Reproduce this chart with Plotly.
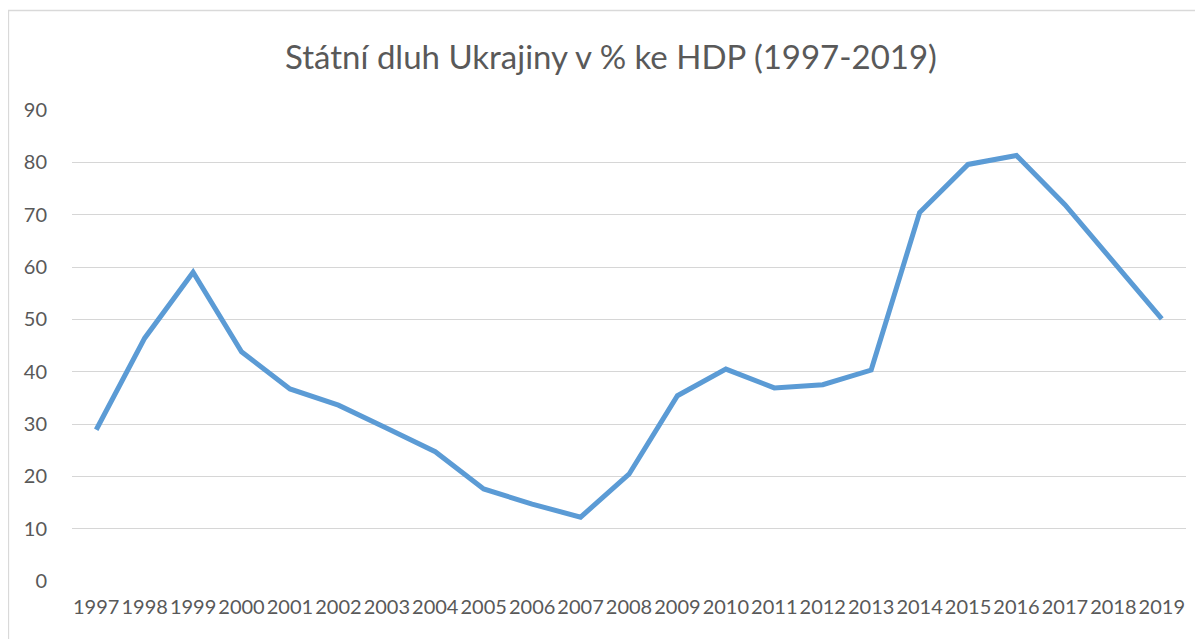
import plotly.graph_objects as go

years = [str(y) for y in range(1997, 2020)]
debt_pct = [28.9, 46.4, 59.0, 43.8, 36.7, 33.6, 29.2, 24.7, 17.6, 14.7, 12.2, 20.4,
            35.4, 40.5, 36.9, 37.5, 40.3, 70.4, 79.6, 81.3, 71.9, 60.9, 50.1]
y_ticks = [0, 10, 20, 30, 40, 50, 60, 70, 80, 90]
title_text = "Státní dluh Ukrajiny v % ke HDP (1997-2019)"

# page has an 8px body margin, so the figure is sized to fit the 1203x639 window
W, H = 1195, 631
L, R, T, B = 64, 17, 102, 58

fig = go.Figure()
fig.add_trace(go.Scatter(
    x=years, y=debt_pct, mode="lines",
    line=dict(color="#5B9BD5", width=5),
    hoverinfo="x+y", showlegend=False,
))

pw = W - L - R
ph = H - T - B
fig.update_layout(
    width=W, height=H,
    margin=dict(l=L, r=R, t=T, b=B, autoexpand=False),
    paper_bgcolor="white", plot_bgcolor="white",
    font=dict(family="Lato, Open Sans, sans-serif", color="#595959"),
    title=dict(text=title_text, x=603 / W, xanchor="center", y=1 - 49 / H, yanchor="middle",
               font=dict(size=33, color="#595959")),
    xaxis=dict(type="category", range=[-0.5, len(years) - 0.5], showgrid=False,
               showline=False, zeroline=False, ticks="", tickfont=dict(size=20),
               ticklabelstandoff=12, tickangle=0, automargin=False),
    yaxis=dict(range=[0, 90], tickvals=y_ticks, showgrid=True, gridcolor="#D6D6D6",
               gridwidth=1.3, zeroline=False, showline=False,
               ticks="outside", ticklen=20, tickcolor="rgba(0,0,0,0)",
               tickfont=dict(size=20), automargin=False),
    shapes=[dict(type="rect", xref="paper", yref="paper",
                 x0=(0.5 - L) / pw, x1=(W + 5 - L) / pw,
                 y0=(H - B - (H + 5)) / ph, y1=(H - B - 2.5) / ph,
                 line=dict(color="#D9D9D9", width=1.3), layer="below")],
)

fig.write_html("out.html")
